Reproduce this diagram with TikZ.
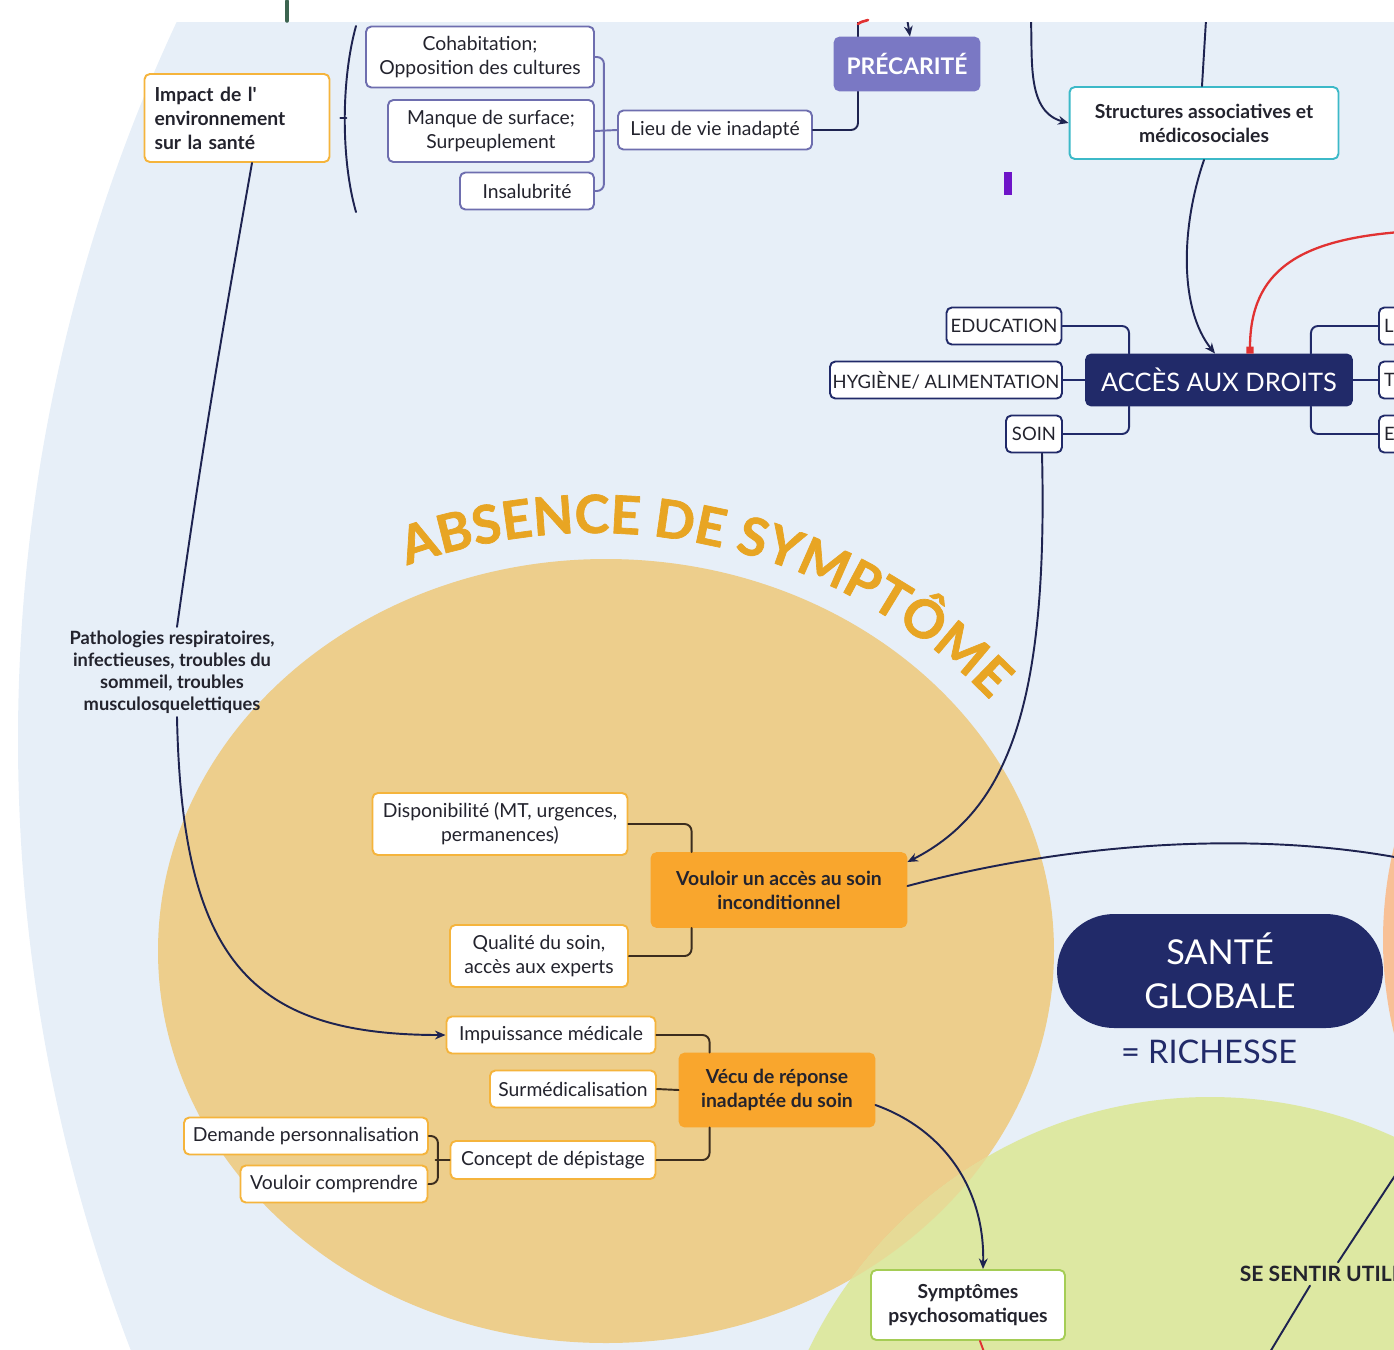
\documentclass[tikz,border=0pt]{standalone}
\usepackage{fontspec}
\setmainfont{Lato}[Ligatures=TeXOff]
\newfontfamily\absfamily{Lato}[Ligatures=TeXOff, BoldFeatures={FakeBold=1.3}]
\usetikzlibrary{arrows.meta,decorations.text}
\definecolor{bgblue}{RGB}{231,239,248}
\definecolor{orangebg}{RGB}{237,206,140}
\definecolor{greenbg}{RGB}{221,232,162}
\definecolor{peach}{RGB}{248,192,150}
\colorlet{overlap}{orangebg!55!greenbg}
\definecolor{navy}{RGB}{33,42,105}
\definecolor{purplefill}{RGB}{122,120,196}
\definecolor{purpleline}{RGB}{110,110,175}
\definecolor{orangeline}{RGB}{245,180,60}
\definecolor{orangefill}{RGB}{249,166,45}
\definecolor{teal}{RGB}{60,185,200}
\definecolor{greenline}{RGB}{165,205,85}
\definecolor{linec}{RGB}{30,35,80}
\definecolor{absorange}{RGB}{232,165,35}
\definecolor{ink}{RGB}{35,35,45}
\definecolor{brownline}{RGB}{60,45,30}
\definecolor{redline}{RGB}{225,50,50}
\definecolor{violetmark}{RGB}{110,20,200}
\newcommand\boxfont{\fontsize{11pt}{13.7pt}\selectfont}
\newcommand\boldbox{\fontsize{11pt}{13.7pt}\selectfont\bfseries}
\newcommand\absfont{\absfamily\fontsize{30pt}{30pt}\selectfont\bfseries}
\begin{document}
\begin{tikzpicture}[x=0.02cm, y=0.02cm, line join=round, line cap=round,
  box/.style={draw, fill=white, rounded corners=3pt, line width=1.1pt, align=center, inner sep=1pt, font=\boxfont, text=ink},
  obox/.style={box, draw=orangeline},
  pbox/.style={box, draw=purpleline},
  nbox/.style={box, draw=navy, font=\fontsize{10.5pt}{12pt}\selectfont},
  ofill/.style={box, fill=orangefill, draw=orangefill, font=\boldbox},
  link/.style={draw=linec, line width=1.1pt},
  arr/.style={link, -{Stealth[length=6pt, width=5pt]}},
  olink/.style={draw=brownline, line width=1.1pt, rounded corners=4pt},
  nlink/.style={draw=navy, line width=1.1pt, rounded corners=4pt},
  plink/.style={draw=purpleline, line width=1.1pt, rounded corners=4pt}]
\useasboundingbox (0,0) rectangle (1394,-1350);
\begin{scope}
\clip (0,-22) rectangle (1394,-1350);
% backgrounds
\fill[bgblue] (1718,-740) circle[radius=1700];
\fill[peach] (1783,-940) circle[radius=400];
\fill[orangebg] (606,-951) ellipse[x radius=448, y radius=392];
\fill[greenbg] (1210,-1542) circle[radius=445];
\begin{scope}
\clip (1210,-1542) circle[radius=445];
\fill[overlap] (606,-951) ellipse[x radius=448, y radius=392];
\end{scope}
\path[decorate, decoration={text along path, text={|\absfont|ABSENCE DE SYMPTÔME}, text align=center, text color=absorange}]
  (594,-1086) ++(112:553) arc[start angle=112, end angle=42, radius=553];
\fill[violetmark] (1004,-172) rectangle (1012,-195);

% top left: environnement
\node[obox, font=\boldbox, align=left, text width=3.3cm, minimum height=1.76cm, inner xsep=0.2cm] (impact) at (237,-118) {Impact de l'\\environnement\\sur la santé};
\node[pbox, minimum width=4.56cm, minimum height=1.22cm] (cohab) at (480,-57) {Cohabitation;\\Opposition des cultures};
\node[pbox, minimum width=4.12cm, minimum height=1.24cm] (manque) at (491,-131) {Manque de surface;\\Surpeuplement};
\node[pbox, minimum width=2.68cm, minimum height=0.74cm] (insal) at (527,-191) {Insalubrité};
\node[pbox, minimum width=3.88cm, minimum height=0.78cm] (lieu) at (715,-130) {Lieu de vie inadapté};
\coordinate (topA) at (858,-20);
\coordinate (topB) at (906,-12);
\coordinate (topC) at (1031,-20);
\coordinate (topD) at (1206,-20);
\draw[link] (356,-26) .. controls (341,-80) and (341,-160) .. (356,-212);
\draw[link] ([xshift=0.2cm]impact.east) -- ++(6,0);
\draw[plink] (cohab.east) -- ++(9,0) |- (insal.east);
\draw[plink] (manque.east) -- (lieu.west);
\draw[link, rounded corners=4pt] (lieu.east) -| (topA);
\node[box, fill=purplefill, draw=purplefill, text=white, font=\fontsize{13pt}{15pt}\selectfont\bfseries, minimum width=2.9cm, minimum height=1.06cm] (precar) at (907,-64) {PRÉCARITÉ};
\draw[arr] (topB) -- ([xshift=0.06cm]precar.north);
\node[box, draw=teal, font=\boldbox, minimum width=5.38cm, minimum height=1.44cm] (struct) at (1204,-123) {Structures associatives et\\médicosociales};
\draw[arr] (topC) to[out=-88, in=165] (struct.west);
\draw[link] (topD) -- ([xshift=-0.04cm]struct.north);

% acces aux droits
\node[box, fill=navy, draw=navy, text=white, font=\fontsize{14.5pt}{16pt}\selectfont, minimum width=5.32cm, minimum height=1.02cm] (acces) at (1219,-380) {ACCÈS AUX DROITS};
\node[nbox, minimum width=2.3cm, minimum height=0.74cm] (educ) at (1004,-326) {EDUCATION};
\node[nbox, minimum width=4.64cm, minimum height=0.74cm] (hyg) at (946,-380) {HYGIÈNE/ ALIMENTATION};
\node[nbox, minimum width=1.12cm, minimum height=0.74cm] (soin) at (1034,-434) {SOIN};
\node[nbox, anchor=west, align=left, text width=1.6cm, minimum height=0.74cm, inner xsep=3pt] (rl) at (1378,-326) {L};
\node[nbox, anchor=west, align=left, text width=1.6cm, minimum height=0.74cm, inner xsep=3pt] (rt) at (1378,-380) {T};
\node[nbox, anchor=west, align=left, text width=1.6cm, minimum height=0.74cm, inner xsep=3pt] (re) at (1378,-434) {E};
\draw[nlink] (educ.east) -| ([xshift=0.88cm]acces.north west);
\draw[nlink] (hyg.east) -- (acces.west);
\draw[nlink] (soin.east) -| ([xshift=0.88cm]acces.south west);
\draw[nlink] ([xshift=-0.84cm]acces.north east) |- (rl.west);
\draw[nlink] (acces.east) -- (rt.west);
\draw[nlink] ([xshift=-0.84cm]acces.south east) |- (re.west);
\draw[arr] (struct.south) .. controls (1180,-230) and (1180,-310) .. ([xshift=-0.08cm]acces.north);
\coordinate (rightB) at (1400,-232);
\draw[draw=redline, line width=1.3pt, -{Square[length=4pt, width=4pt]}] (rightB) .. controls (1300,-240) and (1250,-270) .. ([xshift=0.62cm]acces.north);

% absence de symptome
\node[font=\fontsize{10.4pt}{12.5pt}\selectfont\bfseries, text=ink, align=center, inner sep=2pt] (patho) at (172,-672) {Pathologies respiratoires,\\infectieuses, troubles du\\sommeil, troubles\\musculosquelettiques};
\node[obox, minimum width=5.1cm, minimum height=1.24cm] (dispo) at (500,-824) {Disponibilité (MT, urgences,\\permanences)};
\node[obox, minimum width=3.56cm, minimum height=1.24cm] (qualite) at (539,-956) {Qualité du soin,\\accès aux experts};
\node[ofill, minimum width=5.1cm, minimum height=1.48cm] (vouloir) at (779,-890) {Vouloir un accès au soin\\inconditionnel};
\node[ofill, minimum width=3.9cm, minimum height=1.46cm] (vecu) at (777,-1090) {Vécu de réponse\\inadaptée du soin};
\node[obox, minimum width=4.18cm, minimum height=0.74cm] (impuis) at (551,-1035) {Impuissance médicale};
\node[obox, minimum width=3.32cm, minimum height=0.74cm] (surmed) at (573,-1089) {Surmédicalisation};
\node[obox, minimum width=4.1cm, minimum height=0.76cm] (concept) at (553,-1160) {Concept de dépistage};
\node[obox, minimum width=4.88cm, minimum height=0.74cm] (demande) at (306,-1136) {Demande personnalisation};
\node[obox, minimum width=3.74cm, minimum height=0.74cm] (compr) at (334,-1184) {Vouloir comprendre};
\node[box, draw=greenline, font=\boldbox, minimum width=3.88cm, minimum height=1.4cm] (sympt) at (968,-1305) {Symptômes\\psychosomatiques};
\draw[olink] (dispo.east) -| ([xshift=0.82cm]vouloir.north west);
\draw[olink] (qualite.east) -| ([xshift=0.82cm]vouloir.south west);
\draw[olink] (impuis.east) -| ([xshift=0.62cm]vecu.north west);
\draw[olink] (surmed.east) -- (vecu.west);
\draw[olink] (concept.east) -| ([xshift=0.62cm]vecu.south west);
\draw[olink] (demande.east) -- ++(9,0) |- (compr.east);
\draw[olink] (concept.west) -- ++(-14,0);
\draw[link] ([xshift=0.3cm]impact.south) to[out=-100, in=82] ([xshift=0.1cm]patho.north);
\draw[arr] ([xshift=0.1cm]patho.south) .. controls (182,-960) and (250,-1035) .. (impuis.west);
\draw[arr] ([xshift=0.16cm]soin.south) .. controls (1048,-700) and (1010,-810) .. ([yshift=0.56cm]vouloir.east);
\coordinate (rightA) at (1400,-858);
\draw[link] ([yshift=0.08cm]vouloir.east) .. controls (1080,-840) and (1260,-832) .. (rightA);
\draw[arr] ([yshift=-0.3cm]vecu.east) .. controls (945,-1130) and (985,-1190) .. ([xshift=0.3cm]sympt.north);
\coordinate (botA) at (984,-1352);
\draw[draw=redline, line width=1.1pt] ([xshift=0.24cm]sympt.south) -- (botA);

% sante globale
\node[fill=navy, rounded corners=1.14cm, text=white, align=center, font=\fontsize{19.5pt}{25pt}\selectfont, minimum width=6.52cm, minimum height=2.28cm] (sante) at (1220,-971) {SANTÉ\\GLOBALE};
\node[text=navy, font=\fontsize{18.5pt}{20pt}\selectfont, inner sep=0pt] (riche) at (1209,-1052) {= RICHESSE};
\node[anchor=west, text=ink, font=\fontsize{12pt}{14pt}\selectfont\bfseries, inner sep=2pt] (utile) at (1236,-1274) {SE SENTIR UTILE};
\coordinate (rightC) at (1400,-1168);
\coordinate (botB) at (1270,-1352);
\draw[link] (rightC) -- ([xshift=2.04cm]utile.north west);
\draw[link] ([xshift=1.48cm]utile.south west) -- (botB);
\end{scope}
% marks above the frame
\draw[draw={rgb,255:red,60;green,100;blue,80}, line width=2pt] (287,-1) -- (287,-21);
\draw[draw=redline, line width=1.5pt] (858,-24) to[out=40, in=200] (868,-20);
\end{tikzpicture}
\end{document}
